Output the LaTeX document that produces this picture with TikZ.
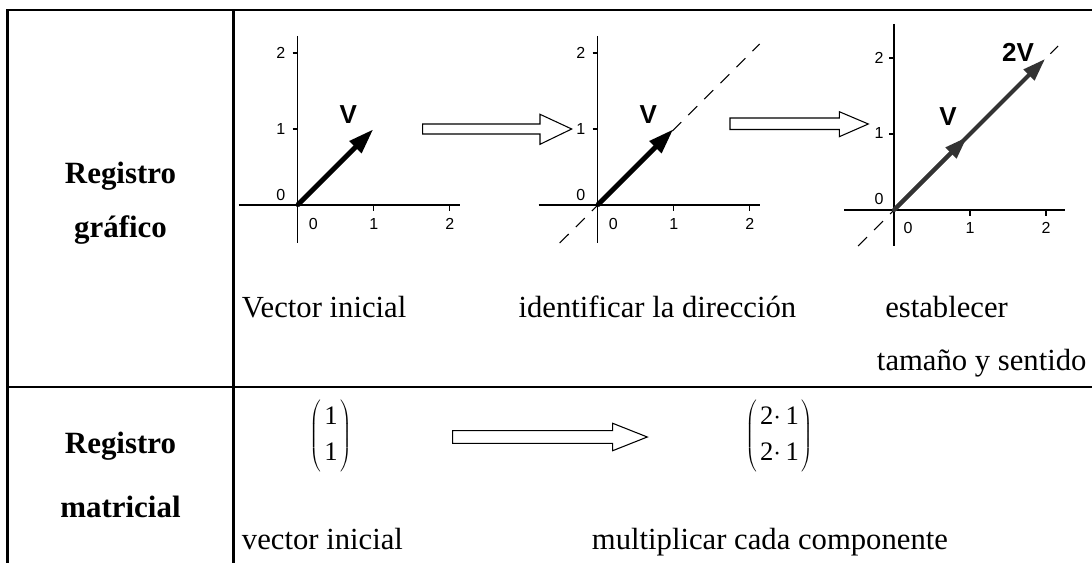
\documentclass[tikz,border=0pt]{standalone}
\usepackage{fontspec}
\setmainfont{Liberation Serif}
\newfontfamily\arialf{Liberation Sans}
\usetikzlibrary{arrows.meta}
\begin{document}
\begin{tikzpicture}[x=0.75pt,y=-0.75pt,
  gridline/.style={line width=1.6pt,black},
  axisline/.style={line width=0.85pt,black},
  ticklbl/.style={font=\arialf\fontsize{12}{14}\selectfont,inner sep=0pt},
  veclbl/.style={font=\arialf\bfseries\fontsize{19.5}{22}\selectfont,inner sep=0pt},
  dirline/.style={line width=0.8pt,dash pattern=on 9.5pt off 7.5pt},
  bigvec/.style={line width=3.7pt,-{Triangle[length=19pt,width=12pt]}},
  grayvec/.style={line width=3pt,draw=black!80,-{Triangle[length=17pt,width=11pt,fill=black!80]}},
  hollow/.style={draw=black,line width=0.8pt,fill=white},
  txt/.style={font=\fontsize{23}{27}\selectfont,inner sep=0pt,anchor=base west},
  head/.style={font=\bfseries\fontsize{23.2}{27}\selectfont,inner sep=0pt,anchor=base},
  mat/.style={font=\fontsize{20}{27}\selectfont,inner sep=0pt}
]
\useasboundingbox (0,0) rectangle (1092,563);
\fill[white] (0,0) rectangle (1092,563);

% table grid
\draw[gridline] (7.5,563) -- (7.5,10) -- (1092,10);
\draw[gridline] (233.5,10) -- (233.5,563);
\draw[gridline] (7.5,387) -- (1092,387);

% row headers
\node[head] (h1a) at (120.5,183.3) {Registro};
\node[head] (h1b) at (120.5,237.5) {gráfico};
\node[head] (h2a) at (120.5,453) {Registro};
\node[head] (h2b) at (120.5,517) {matricial};

% ---------- plot 1 ----------
\begin{scope}[shift={(297.7,205)}]
  \draw[axisline] (0,-169) -- (0,38);
  \draw[axisline] (-59,0) -- (162,0);
  \foreach \t in {76,152} {
    \draw[axisline] (-5,-\t) -- (0,-\t);
    \draw[axisline] (\t,0) -- (\t,6);
  }
  \node[ticklbl] (p1y2) at (-17,-152) {2};
  \node[ticklbl] (p1y1) at (-17,-76) {1};
  \node[ticklbl] (p1y0) at (-17,-10) {0};
  \node[ticklbl] (p1x0) at (15.6,19) {0};
  \node[ticklbl] (p1x1) at (76,19) {1};
  \node[ticklbl] (p1x2) at (152,19) {2};
  \coordinate (o1) at (0,0);
  \coordinate (v1) at (75.6,-75.7);
  \fill (o1) circle (2);
  \draw[bigvec] (o1) -- (v1);
  \node[veclbl] (lv1) at (50.5,-90) {V};
\end{scope}

% ---------- plot 2 ----------
\begin{scope}[shift={(597.7,205)}]
  \draw[axisline] (0,-169) -- (0,38);
  \draw[axisline] (-59,0) -- (162,0);
  \foreach \t in {76,152} {
    \draw[axisline] (-5,-\t) -- (0,-\t);
    \draw[axisline] (\t,0) -- (\t,6);
  }
  \node[ticklbl] (p2y2) at (-17,-152) {2};
  \node[ticklbl] (p2y1) at (-17,-76) {1};
  \node[ticklbl] (p2y0) at (-17,-10) {0};
  \node[ticklbl] (p2x0) at (15.6,19) {0};
  \node[ticklbl] (p2x1) at (76,19) {1};
  \node[ticklbl] (p2x2) at (152,19) {2};
  \coordinate (d2a) at (-38,38);
  \coordinate (d2b) at (162,-161);
  \draw[dirline] (d2a) -- (d2b);
  \coordinate (o2) at (0,0);
  \coordinate (v2) at (75.6,-75.7);
  \fill (o2) circle (2);
  \draw[bigvec] (o2) -- (v2);
  \node[veclbl] (lv2) at (50.5,-90) {V};
\end{scope}

% ---------- plot 3 ----------
\begin{scope}[shift={(894,210)}]
  \draw[axisline] (0,-186) -- (0,36);
  \draw[axisline] (-50,0) -- (171,0);
  \foreach \t in {76,152} {
    \draw[axisline] (-5,-\t) -- (0,-\t);
    \draw[axisline] (\t,0) -- (\t,6);
  }
  \node[ticklbl] (p3y2) at (-15,-152) {2};
  \node[ticklbl] (p3y1) at (-15,-77) {1};
  \node[ticklbl] (p3y0) at (-15,-11) {0};
  \node[ticklbl] (p3x0) at (14,18) {0};
  \node[ticklbl] (p3x1) at (76,18) {1};
  \node[ticklbl] (p3x2) at (152,18) {2};
  \coordinate (d3a) at (-36,36);
  \coordinate (d3b) at (164,-164);
  \draw[dirline] (d3a) -- (d3b);
  \coordinate (o3) at (0,0);
  \coordinate (w3) at (151,-151);
  \coordinate (v3) at (73,-73);
  \draw[grayvec] (o3) -- (w3);
  \draw[grayvec] (o3) -- (v3);
  \fill[black!80] (o3) circle (2);
  \node[veclbl] (lv3) at (54,-93) {V};
  \node[veclbl] (l2v) at (124,-158) {2V};
\end{scope}

% hollow arrows
\draw[hollow] (422.7,124) -- (540,124) -- (540,114.3) -- (571.7,129) -- (540,144.3) -- (540,134) -- (422.7,134) -- cycle;
\draw[hollow] (730,118) -- (839.3,118) -- (839.3,111.7) -- (868.3,124) -- (839.3,136.7) -- (839.3,129.5) -- (730,129.5) -- cycle;
\draw[hollow] (452.7,430.7) -- (612.7,430.7) -- (612.7,423.3) -- (647.3,437) -- (612.7,450.7) -- (612.7,443.3) -- (452.7,443.3) -- cycle;

% row 1 captions
\node[txt] (c1) at (241.7,317.5) {Vector inicial};
\node[txt] (c2) at (518.3,317.5) {identificar la dirección};
\node[txt] (c3) at (885,317.5) {establecer};
\node[txt] (c4) at (876.7,370.5) {tamaño y sentido};

% row 2
\node[mat] (m1) at (331,435.5) {$\setlength\arraycolsep{2.2pt}\left(\begin{array}{c}\mbox{1}\\\mbox{1}\end{array}\right)$};
\node[mat] (m2) at (779.5,435.5) {$\setlength\arraycolsep{2.2pt}\left(\begin{array}{c}\mbox{2}{\cdot}\,\mbox{1}\\\mbox{2}{\cdot}\,\mbox{1}\end{array}\right)$};
\node[txt] (c5) at (241.7,549) {vector inicial};
\node[txt] (c6) at (591.7,549) {multiplicar cada componente};
\end{tikzpicture}
\end{document}
